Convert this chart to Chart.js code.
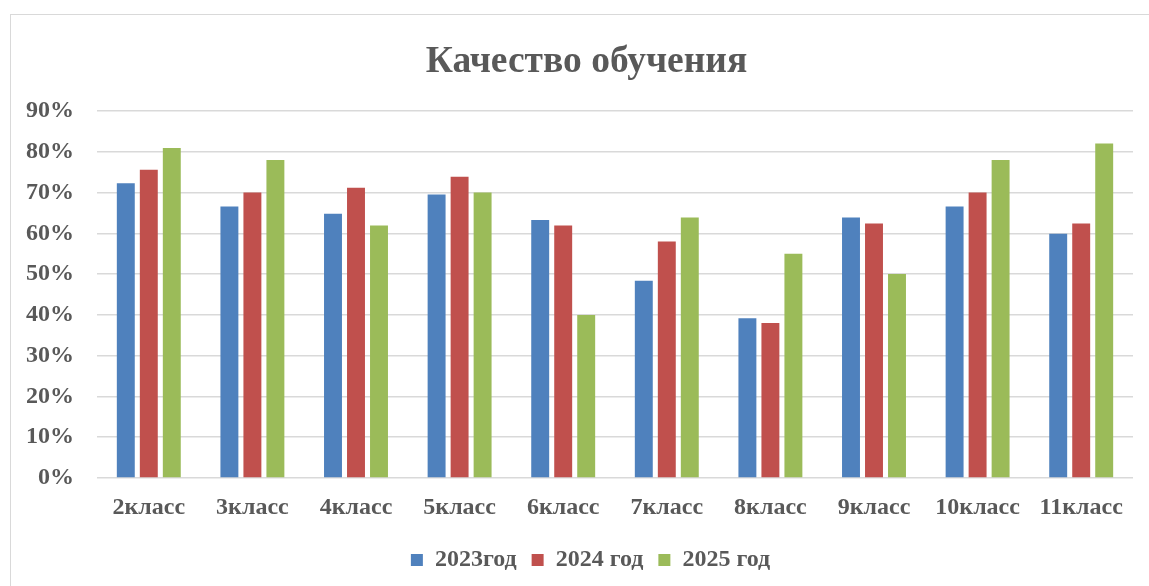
<!DOCTYPE html>
<html>
<head>
<meta charset="utf-8">
<script src="https://cdn.jsdelivr.net/npm/chart.js@4"></script>
<style>
    html, body { margin: 0; padding: 0; background: #ffffff; }
    body { width: 1149px; height: 586px; position: relative; overflow: hidden; }
    .frame {
        position: absolute; left: 10px; top: 14px; width: 1160px; height: 600px;
        border-top: 1px solid #d9d9d9; border-left: 1px solid #d9d9d9;
    }
    .wrap { position: absolute; left: 0; top: 0; width: 1149px; height: 586px; }
</style>
</head>
<body>
<div class="frame"></div>
<div class="wrap"><canvas id="qualityChart"></canvas></div>
<script>
// Categories and series (percent)
const classes = ['2класс', '3класс', '4класс', '5класс', '6класс', '7класс', '8класс', '9класс', '10класс', '11класс'];
const year2023 = [72.3, 66.6, 64.8, 69.5, 63.3, 48.4, 39.2, 63.9, 66.6, 59.9];
const year2024 = [75.6, 70.0, 71.2, 73.9, 61.9, 58.0, 38.0, 62.4, 70.0, 62.4];
const year2025 = [80.9, 78.0, 61.9, 70.0, 40.0, 63.9, 55.0, 50.0, 78.0, 82.0];
const seriesLabels = ['2023год', '2024 год', '2025 год'];
const yTicks = [0, 10, 20, 30, 40, 50, 60, 70, 80, 90];

const textColor = '#595959';
const gridColor = '#d9d9d9';
const fontFamily = '"Liberation Serif", "Times New Roman", serif';

// Title and legend sit a little right of the canvas centre in the original
const shiftBlocks = {
    id: 'shiftBlocks',
    afterLayout(chart) {
        if (chart.titleBlock) {
            chart.titleBlock.left += 10;
            chart.titleBlock.right += 10;
        }
        if (chart.legend) {
            chart.legend.left += 14;
            chart.legend.right += 14;
        }
    }
};

document.addEventListener('DOMContentLoaded', function() {
    createQualityChart();
});

function createQualityChart() {
    const ctx = document.getElementById('qualityChart');
    const colors = ['#4f81bd', '#c0504d', '#9bbb59'];
    const values = [year2023, year2024, year2025];

    new Chart(ctx, {
        type: 'bar',
        data: {
            labels: classes,
            datasets: values.map((data, i) => ({
                label: seriesLabels[i],
                data: data,
                backgroundColor: colors[i],
                categoryPercentage: 0.666,
                barPercentage: 0.78
            }))
        },
        plugins: [shiftBlocks],
        options: {
            responsive: true,
            maintainAspectRatio: false,
            animation: false,
            layout: {
                padding: { left: 20, right: 16, top: 0, bottom: 4 }
            },
            plugins: {
                title: {
                    display: true,
                    text: 'Качество обучения',
                    color: textColor,
                    font: { family: fontFamily, size: 37.5, weight: 'bold' },
                    padding: { top: 40, bottom: 26 }
                },
                legend: {
                    position: 'bottom',
                    labels: {
                        color: textColor,
                        boxWidth: 12,
                        boxHeight: 12,
                        padding: 15,
                        font: { family: fontFamily, size: 24, weight: 'bold' }
                    }
                },
                tooltip: { enabled: false }
            },
            scales: {
                x: {
                    afterFit: function(scale) { scale.height = 55; },
                    grid: { display: false },
                    border: { display: false },
                    ticks: {
                        color: textColor,
                        padding: 7,
                        font: { family: fontFamily, size: 24, weight: 'bold' }
                    }
                },
                y: {
                    min: 0,
                    max: 90,
                    afterFit: function(scale) { scale.width = 77; },
                    afterBuildTicks: function(scale) {
                        scale.ticks = yTicks.map(v => ({ value: v }));
                    },
                    grid: { color: gridColor, lineWidth: 1.5, drawTicks: false },
                    border: { display: false },
                    ticks: {
                        color: textColor,
                        padding: 23,
                        font: { family: fontFamily, size: 24, weight: 'bold' },
                        callback: function(value) { return value + '%'; }
                    }
                }
            }
        }
    });
}
</script>
</body>
</html>
